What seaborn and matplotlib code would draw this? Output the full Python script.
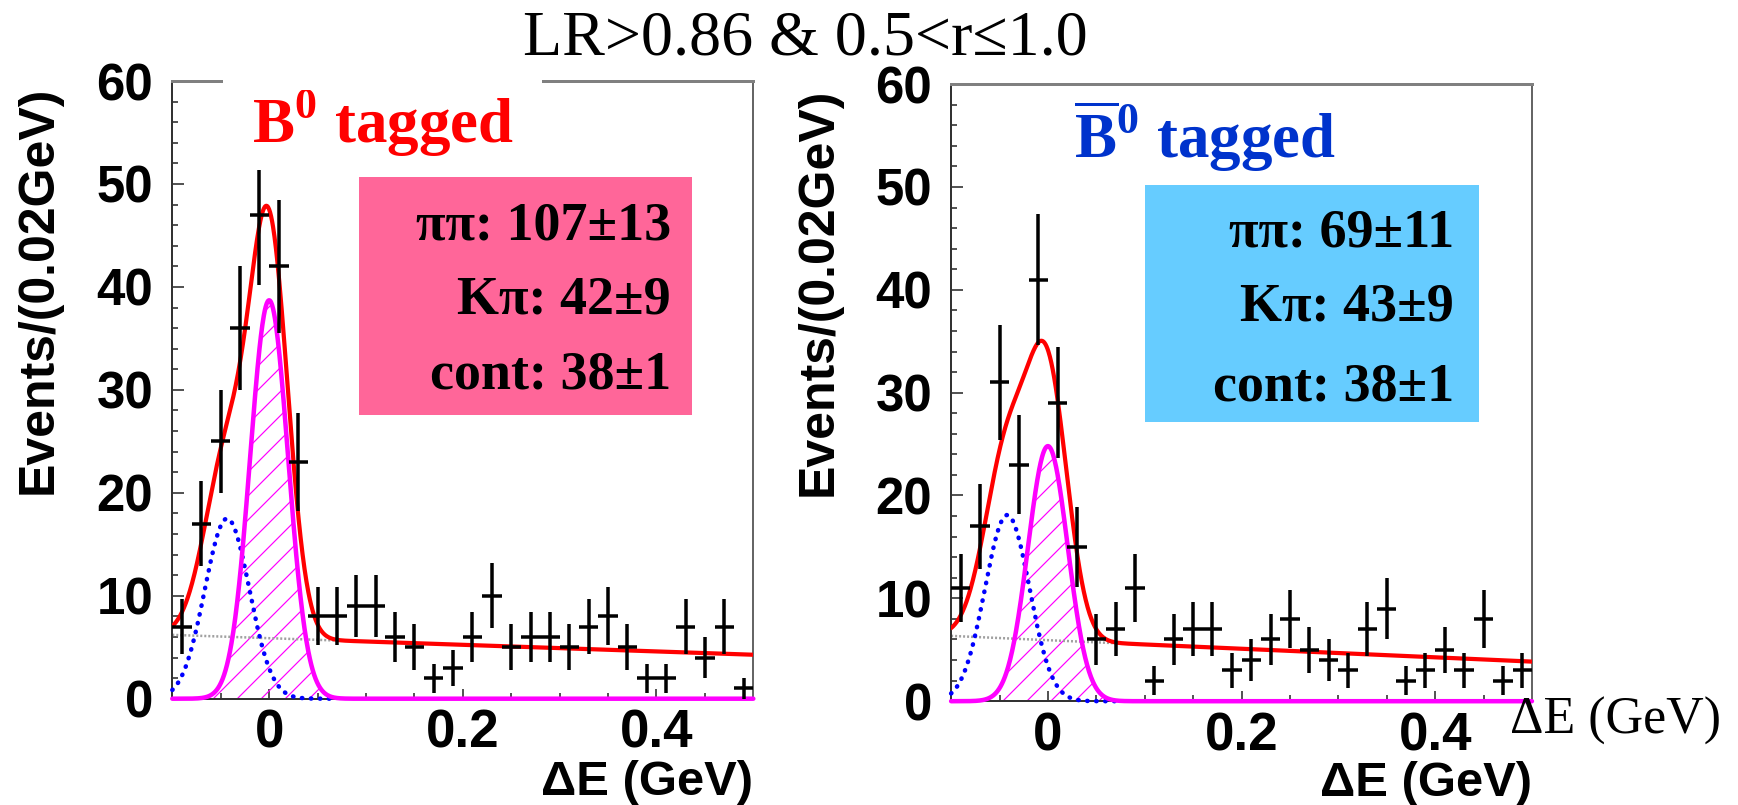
import numpy as np
import pandas as pd
import matplotlib
matplotlib.use("Agg")
import matplotlib.pyplot as plt
import seaborn as sns
from matplotlib.patches import Rectangle
from matplotlib.ticker import MultipleLocator, FixedLocator

# ---------------- data ----------------
bin_centers = [-0.09, -0.07, -0.05, -0.03, -0.01, 0.01, 0.03, 0.05, 0.07, 0.09,
               0.11, 0.13, 0.15, 0.17, 0.19, 0.21, 0.23, 0.25, 0.27, 0.29,
               0.31, 0.33, 0.35, 0.37, 0.39, 0.41, 0.43, 0.45, 0.47, 0.49]
bin_half_width = 0.01

b0_counts = [7, 17, 25, 36, 47, 42, 23, 8, 8, 9, 9, 6, 5, 2, 3, 6, 10, 5, 6, 6,
             5, 7, 8, 5, 2, 2, 7, 4, 7, 1]
b0_err_lo = [2.65, 4.12, 5.0, 6.0, 6.8, 6.48, 4.8, 2.83, 2.83, 3.0, 3.0, 2.45, 2.24, 1.41, 1.73,
             2.45, 3.16, 2.24, 2.45, 2.45, 2.24, 2.65, 2.83, 2.24, 1.41, 1.41, 2.65, 2.0, 2.65, 1.0]
b0_err_hi = [2.65, 4.12, 5.0, 6.0, 4.4, 6.48, 4.8, 2.83, 2.83, 3.0, 3.0, 2.45, 2.24, 1.41, 1.73,
             2.45, 3.16, 2.24, 2.45, 2.45, 2.24, 2.65, 2.83, 2.24, 1.41, 1.41, 2.65, 2.0, 2.65, 1.0]

b0bar_counts = [11, 17, 31, 23, 41, 29, 15, 6, 7, 11, 2, 6, 7, 7, 3, 4, 6, 8, 5, 4,
                3, 7, 9, 2, 3, 5, 3, 8, 2, 3]
b0bar_err = [3.32, 4.12, 5.57, 4.8, 6.4, 5.39, 3.87, 2.45, 2.65, 3.32, 1.41, 2.45, 2.65, 2.65, 1.73,
             2.0, 2.45, 2.83, 2.24, 2.0, 1.73, 2.65, 3.0, 1.41, 1.73, 2.24, 1.73, 2.83, 1.41, 1.73]

# fit components: [B0 panel, B0bar panel]
pipi_amp = [38.7, 24.8]
pipi_mean = [0.0, 0.0]
pipi_sigma = [0.0196, 0.0205]
kpi_amp = [17.5, 18.1]
kpi_mean = [-0.0434, -0.042]
kpi_sigma = [0.023, 0.023]
cont_at_lo = [6.2, 6.35]    # continuum level at dE = -0.1
cont_at_hi = [4.27, 3.85]   # continuum level at dE = 0.5
peak_region_end = 0.07

panel_titles = [r"$\mathbf{B}^{\mathbf{0}}$ tagged", r"$\overline{\mathbf{B}}^{\mathbf{0}}$ tagged"]
yield_lines = [["ππ: 107±13", "Kπ: 42±9", "cont: 38±1"],
               ["ππ: 69±11", "Kπ: 43±9", "cont: 38±1"]]

xtick_vals = [0.0, 0.2, 0.4]
xtick_labels = ["0", "0.2", "0.4"]
ytick_vals = [0, 10, 20, 30, 40, 50, 60]
ytick_labels = ["0", "10", "20", "30", "40", "50", "60"]

title_text = "LR>0.86 & 0.5<r≤1.0"
ylabel_text = "Events/(0.02GeV)"
xlabel_text = "ΔE (GeV)"

# ---------------- style ----------------
sns.set_style("white")
plt.rcParams["font.family"] = ["Liberation Sans", "DejaVu Sans"]
plt.rcParams["text.color"] = "black"
plt.rcParams["axes.labelcolor"] = "black"
plt.rcParams["xtick.color"] = "black"
plt.rcParams["ytick.color"] = "black"
plt.rcParams["mathtext.fontset"] = "custom"
plt.rcParams["mathtext.rm"] = "Liberation Serif"
plt.rcParams["mathtext.bf"] = "Liberation Serif:bold"
plt.rcParams["hatch.color"] = "#FF00FF"
plt.rcParams["hatch.linewidth"] = 1.2
SERIF = ["Liberation Serif", "DejaVu Serif"]

RED = "#FF0000"
MAGENTA = "#FF00FF"
BLUE_DOT = "#0000FF"

fig = plt.figure(figsize=(1738 / 72, 805 / 72), dpi=72)
fig.patch.set_facecolor("white")
axes = [fig.add_axes([0.09914, 0.13205, 0.3343, 0.7673]),
        fig.add_axes([0.54724, 0.12894, 0.3342, 0.7666])]

panel_counts = [b0_counts, b0bar_counts]
panel_err = [[b0_err_lo, b0_err_hi], [b0bar_err, b0bar_err]]
title_colors = ["#FF0000", "#0033CC"]
box_colors = ["#FF6699", "#66CCFF"]
title_pos = [(0.1375, 0.8996), (0.2116, 0.8809)]
box_geom = [(0.321, 0.4598, 0.574, 0.3848), (0.3335, 0.4524, 0.5747, 0.3836)]
text_x = [0.8583, 0.8659]
text_base = [[0.7442, 0.6236, 0.5014], [0.7368, 0.6164, 0.4879]]
ylabel_pos = [(-0.1898, 0.6617), (-0.1878, 0.6631)]
xlabel_y = [-0.099, -0.097]

grid = np.linspace(-0.1, 0.5, 1201)

for i, ax in enumerate(axes):
    pipi = pipi_amp[i] * np.exp(-0.5 * ((grid - pipi_mean[i]) / pipi_sigma[i]) ** 2)
    kpi = kpi_amp[i] * np.exp(-0.5 * ((grid - kpi_mean[i]) / kpi_sigma[i]) ** 2)
    cont = cont_at_lo[i] + (cont_at_hi[i] - cont_at_lo[i]) * (grid + 0.1) / 0.6
    total = pipi + kpi + cont
    df = pd.DataFrame({"dE": grid, "pipi": pipi, "kpi": kpi, "cont": cont, "total": total})
    peak = df[df["dE"] <= peak_region_end]

    # hatched signal
    ax.fill_between(df["dE"], 0, df["pipi"], facecolor="none", edgecolor=MAGENTA,
                    hatch="/", linewidth=0, zorder=1)
    # continuum (grey dotted under the peak)
    sns.lineplot(data=peak, x="dE", y="cont", ax=ax, color="#A0A0A0", lw=2.5,
                 estimator=None, sort=False, zorder=2)
    ax.lines[-1].set_dashes([0.8, 0.8])
    # K pi (blue dotted)
    sns.lineplot(data=peak, x="dE", y="kpi", ax=ax, color=BLUE_DOT, lw=4.5,
                 estimator=None, sort=False, zorder=3)
    ln = ax.lines[-1]
    ln.set_dashes([0.1, 1.9])
    ln.set_dash_capstyle("round")
    ln.set_clip_on(False)
    # pi pi signal
    sns.lineplot(data=df, x="dE", y="pipi", ax=ax, color=MAGENTA, lw=4.5,
                 estimator=None, sort=False, zorder=4)
    ax.lines[-1].set_clip_on(False)
    # total fit
    sns.lineplot(data=df, x="dE", y="total", ax=ax, color=RED, lw=4.2,
                 estimator=None, sort=False, zorder=5)

    # data points
    ax.errorbar(bin_centers, panel_counts[i], xerr=bin_half_width,
                yerr=panel_err[i], fmt="none", ecolor="black",
                elinewidth=3.5, capsize=0, zorder=6)

    ax.set_xlim(-0.1, 0.5)
    ax.set_ylim(0, 60)
    ax.xaxis.set_major_locator(FixedLocator(xtick_vals))
    ax.set_xticklabels(xtick_labels)
    ax.xaxis.set_minor_locator(MultipleLocator(0.05))
    ax.yaxis.set_major_locator(FixedLocator(ytick_vals))
    ax.set_yticklabels(ytick_labels)
    ax.yaxis.set_minor_locator(MultipleLocator(2))
    ax.tick_params(axis="both", which="both", direction="in", color="#555555",
                   labelcolor="black", width=2, top=False, right=False,
                   bottom=True, left=True)
    ax.tick_params(axis="y", which="major", length=12, labelsize=51, pad=19)
    ax.tick_params(axis="y", which="minor", length=6)
    ax.tick_params(axis="x", which="major", length=10, labelsize=53, pad=10)
    ax.tick_params(axis="x", which="minor", length=6)
    for lbl in ax.get_xticklabels() + ax.get_yticklabels():
        lbl.set_fontweight("bold")

    for side in ["left", "bottom"]:
        ax.spines[side].set_color("#333333")
        ax.spines[side].set_linewidth(2)
    ax.spines["top"].set_color("#808080")
    ax.spines["top"].set_linewidth(3)
    ax.spines["right"].set_color("#666666")
    ax.spines["right"].set_linewidth(2)

    ax.set_ylabel(ylabel_text, fontsize=50, fontweight="bold", color="black")
    ax.yaxis.set_label_coords(*ylabel_pos[i])
    ax.set_xlabel(xlabel_text, fontsize=49, fontweight="bold", loc="right", color="black")
    ax.xaxis.set_label_coords(1.0, xlabel_y[i])

    # yields box
    bx, by, bw, bh = box_geom[i]
    ax.add_patch(Rectangle((bx, by), bw, bh, transform=ax.transAxes,
                           facecolor=box_colors[i], edgecolor="none", zorder=7))
    for line, yb in zip(yield_lines[i], text_base[i]):
        ax.text(text_x[i], yb, line, transform=ax.transAxes, ha="right", va="baseline",
                fontsize=54, fontweight="bold", family=SERIF, color="black", zorder=8)

    # panel title
    ax.text(title_pos[i][0], title_pos[i][1], panel_titles[i], transform=ax.transAxes,
            ha="left", va="baseline", fontsize=63, fontweight="bold", family=SERIF,
            color=title_colors[i], zorder=8)

# white patch breaking the top frame behind the left title
axes[0].add_patch(Rectangle((0.0873, 0.985), 0.549, 0.03, transform=axes[0].transAxes,
                            facecolor="white", edgecolor="none", clip_on=False, zorder=9))

fig.text(0.4632, 0.9317, title_text, ha="center", va="baseline", fontsize=64,
         family=SERIF, color="black")
fig.text(0.8688, 1 - 697 / 805, xlabel_text, ha="left", va="top", fontsize=52,
         family=SERIF, color="black")

fig.savefig("out.png", dpi=72, facecolor="white")
